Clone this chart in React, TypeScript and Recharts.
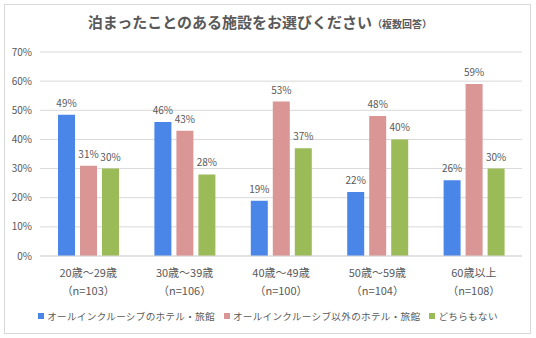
import React from "react";
import {
  BarChart,
  Bar,
  XAxis,
  YAxis,
  CartesianGrid,
  Legend,
  LabelList,
} from "recharts";

const ageGroups = ["20歳～29歳", "30歳～39歳", "40歳～49歳", "50歳～59歳", "60歳以上"];
const sampleSizes = ["（n=103）", "（n=106）", "（n=100）", "（n=104）", "（n=108）"];

const allInclusive = [48.5, 46, 19, 22, 26];
const otherHotels = [31, 43, 53, 48, 59];
const neither = [30, 28, 37, 40, 30];

const seriesNames = [
  "オールインクルーシブのホテル・旅館",
  "オールインクルーシブ以外のホテル・旅館",
  "どちらもない",
];
const yTicks = [0, 10, 20, 30, 40, 50, 60, 70];

const COLORS = ["#4A86E8", "#DA9694", "#9BBB59"];
const FONT = "'Noto Sans CJK JP', 'Noto Sans', sans-serif";
const TEXT = "#595959";

const data = ageGroups.map((age, i) => ({
  age,
  n: sampleSizes[i],
  a: allInclusive[i],
  b: otherHotels[i],
  c: neither[i],
}));

// two-line category label: age range, then sample size
function AgeTick({ x, y, payload, index }: any) {
  return (
    <text x={x} y={y} textAnchor="middle" fill={TEXT} fontSize={11} fontFamily={FONT}>
      <tspan x={x} dy={21}>{payload.value}</tspan>
      <tspan x={x} dy={18}>{sampleSizes[index]}</tspan>
    </text>
  );
}

function LegendBox() {
  return (
    <div
      style={{
        display: "flex",
        justifyContent: "center",
        alignItems: "center",
        height: 22,
        position: "relative",
        top: 3,
        fontFamily: FONT,
        fontSize: 9.6,
        color: TEXT,
        letterSpacing: 0.3,
      }}
    >
      {seriesNames.map((name, i) => (
        <div key={name} style={{ display: "flex", alignItems: "center", marginRight: i < 2 ? 9 : 0 }}>
          <span style={{ width: 6, height: 6, background: COLORS[i], marginRight: 3, display: "inline-block" }} />
          <span>{name}</span>
        </div>
      ))}
    </div>
  );
}

const pct = (v: any) => `${Math.round(Number(v))}%`;

export default function App() {
  return (
    <div style={{ position: "absolute", left: 0, top: 0, width: 536, height: 338, background: "#fff" }}>
      <div
        style={{
          position: "absolute",
          left: 4,
          top: 4,
          width: 525,
          height: 328,
          border: "1px solid #d9d9d9",
        }}
      />
      <div
        style={{
          position: "absolute",
          left: 0,
          top: 11,
          width: 520,
          textAlign: "center",
          fontFamily: FONT,
          color: TEXT,
          fontWeight: 700,
          fontSize: 15,
          whiteSpace: "nowrap",
        }}
      >
        泊まったことのある施設をお選びください
        <span style={{ fontSize: 10 }}>（複数回答）</span>
      </div>
      <div style={{ position: "absolute", left: 0, top: 0 }}>
        <BarChart
          width={536}
          height={338}
          data={data}
          margin={{ top: 52, right: 14, bottom: 14, left: 8 }}
          barGap={5}
          barCategoryGap={18}
        >
          <CartesianGrid vertical={false} stroke="#d9d9d9" />
          <XAxis
            dataKey="age"
            axisLine={{ stroke: "#d9d9d9" }}
            tickLine={false}
            tickSize={0}
            tickMargin={0}
            height={46}
            interval={0}
            tick={<AgeTick />}
          />
          <YAxis
            width={32}
            domain={[0, 70]}
            ticks={yTicks}
            tickFormatter={(v) => `${v}%`}
            axisLine={false}
            tickLine={false}
            tick={{ fill: TEXT, fontSize: 10, fontFamily: FONT }}
          />
          <Legend
            verticalAlign="bottom"
            content={() => <LegendBox />}
            wrapperStyle={{ left: 0, width: 536 }}
          />
          <Bar dataKey="a" name={seriesNames[0]} fill={COLORS[0]} isAnimationActive={false}>
            <LabelList dataKey="a" position="top" offset={8} formatter={pct} fill={TEXT} fontSize={10} fontFamily={FONT} />
          </Bar>
          <Bar dataKey="b" name={seriesNames[1]} fill={COLORS[1]} isAnimationActive={false}>
            <LabelList dataKey="b" position="top" offset={8} formatter={pct} fill={TEXT} fontSize={10} fontFamily={FONT} />
          </Bar>
          <Bar dataKey="c" name={seriesNames[2]} fill={COLORS[2]} isAnimationActive={false}>
            <LabelList dataKey="c" position="top" offset={8} formatter={pct} fill={TEXT} fontSize={10} fontFamily={FONT} />
          </Bar>
        </BarChart>
      </div>
    </div>
  );
}
